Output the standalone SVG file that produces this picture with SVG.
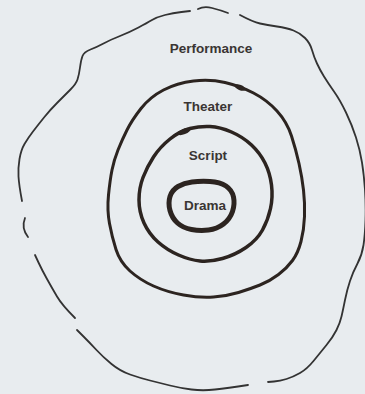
<svg xmlns="http://www.w3.org/2000/svg" width="365" height="394" viewBox="0 0 365 394">
<style>
.ring{fill:none;stroke:#2c2420;stroke-linejoin:round;stroke-linecap:round}
.outer{fill:none;stroke:#333;stroke-width:1.8;stroke-linecap:round;stroke-linejoin:round}
.blob{fill:#2c2420}
text{font-family:"Liberation Sans",Arial,sans-serif;font-size:13.5px;font-weight:bold;fill:#3a3533;text-anchor:middle}
</style>
<rect width="365" height="394" fill="#e8ecef"/>
<g id="performance">
<path class="outer" d="M22,201 Q19,185 18.5,176.5 Q18,168 19.5,159 Q21,150 24.5,144 Q28,138 33,131.5 Q38,125 44,117.5 Q50,110 57.5,102.5 Q65,95 70.5,89.5 Q76,84 77.5,79.5 Q79,75 80,67.5 Q81,60 82.5,56 Q84,52 90.5,49.5 Q97,47 103.5,43.5 Q110,40 120,36 Q130,32 138.5,27.5 Q147,23 152,20 Q157,17 165,15 Q173,13 181.5,12 L190,11"/>
<path class="outer" d="M198,9 Q204,6 212,8 T228,13"/>
<path class="outer" d="M240,15 Q253,22 260,23.5 Q267,25 277,26.5 Q287,28 293.5,30.5 Q300,33 305,38 Q310,43 312,50 Q314,57 317,63.5 Q320,70 324,76.5 Q328,83 334,91.5 Q340,100 346,112.5 Q352,125 356,137.5 Q360,150 362,162.5 Q364,175 365,190 Q366,205 365.5,220 Q365,235 363.5,245 Q362,255 357.5,263.5 Q353,272 350,281 Q347,290 345,300 Q343,310 341.5,316.5 Q340,323 336.5,330 Q333,337 326.5,345 Q320,353 313.5,361 Q307,369 300,373 Q293,377 286.5,379 Q280,381 274,381.5 L268,382"/>
<path class="outer" d="M248,385 Q227,388 215,389.5 Q203,391 191.5,389.5 Q180,388 170,385.5 Q160,383 150,380.5 Q140,378 130,374.5 Q120,371 111.5,364 Q103,357 96.5,350 Q90,343 83.5,336.5 L77,330"/>
<path class="outer" d="M75,318 Q62,305 57,296.5 Q52,288 47,279 Q42,270 38.5,262.5 L35,255"/>
<path class="outer" d="M25,218 Q21,228 28,237"/>
<text x="211" y="53">Performance</text>
</g>
<g id="theater">
<path class="ring" stroke-width="3" d="M225,82.5 Q240,86 253.5,93 Q267,100 277,111 Q287,122 291.5,136 Q296,150 299,163.5 Q302,177 303.5,190 Q305,203 304.5,216.5 Q304,230 301,241.5 Q298,253 292.5,260.5 Q287,268 278.5,274.5 Q270,281 260,285 Q250,289 238.5,292.5 Q227,296 213.5,297 Q200,298 183.5,295 Q167,292 153.5,286 Q140,280 130,271 Q120,262 116,249.5 Q112,237 109.5,223.5 Q107,210 108.5,195 Q110,180 112,170 Q114,160 118,150 Q122,140 127,130 Q132,120 141,108.5 Q150,97 163.5,90 Q177,83 193.5,81 Q210,79 225,82.5 Z"/>
<ellipse class="blob" cx="240" cy="87.5" rx="6" ry="2.6" transform="rotate(22 240 87.5)"/>
<text x="208" y="111">Theater</text>
</g>
<g id="script">
<path class="ring" stroke-width="3.5" d="M210,126.5 Q220,127 231.5,132 Q243,137 251.5,145 Q260,153 265,163 Q270,173 271.5,185 Q273,197 270.5,208.5 Q268,220 262.5,230 Q257,240 246,247.5 Q235,255 222.5,258.5 Q210,262 200,261 Q190,260 178.5,255 Q167,250 158,242 Q149,234 144,223 Q139,212 139,200 Q139,188 143,177.5 Q147,167 153.5,157 Q160,147 170,139 Q180,131 190,128.5 Q200,126 210,126.5 Z"/>
<ellipse class="blob" cx="184" cy="131.5" rx="7" ry="2.8" transform="rotate(-22 184 131.5)"/>
<text x="208" y="160">Script</text>
</g>
<g id="drama">
<path class="ring" stroke-width="5" d="M210,181.5 Q220,182 226,186 Q232,190 233.5,197 Q235,204 232.5,211.5 Q230,219 223.5,224 Q217,229 208.5,230 Q200,231 191.5,229.5 Q183,228 177.5,223 Q172,218 170,210.5 Q168,203 170,196.5 Q172,190 178,186.5 Q184,183 192,182 Q200,181 210,181.5 Z"/>
<text x="205" y="210">Drama</text>
</g>
<g id="connectors"/>
</svg>
